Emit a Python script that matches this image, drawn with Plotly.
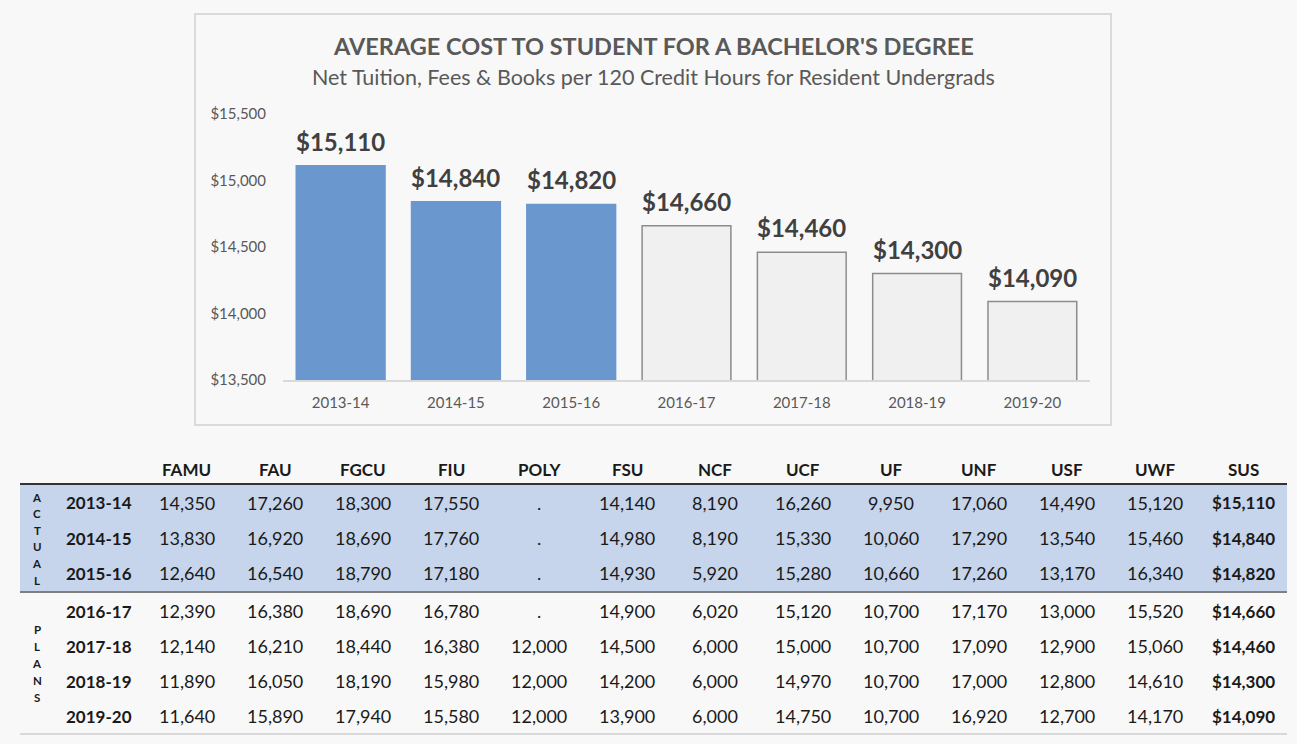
import plotly.graph_objects as go

W, H = 1297, 744

years = ["2013-14", "2014-15", "2015-16", "2016-17", "2017-18", "2018-19", "2019-20"]
n_actual = 3
schools = ["FAMU", "FAU", "FGCU", "FIU", "POLY", "FSU", "NCF", "UCF", "UF", "UNF", "USF", "UWF", "SUS"]
famu = [14350, 13830, 12640, 12390, 12140, 11890, 11640]
fau = [17260, 16920, 16540, 16380, 16210, 16050, 15890]
fgcu = [18300, 18690, 18790, 18690, 18440, 18190, 17940]
fiu = [17550, 17760, 17180, 16780, 16380, 15980, 15580]
poly = [None, None, None, None, 12000, 12000, 12000]
fsu = [14140, 14980, 14930, 14900, 14500, 14200, 13900]
ncf = [8190, 8190, 5920, 6020, 6000, 6000, 6000]
ucf = [16260, 15330, 15280, 15120, 15000, 14970, 14750]
uf = [9950, 10060, 10660, 10700, 10700, 10700, 10700]
unf = [17060, 17290, 17260, 17170, 17090, 17000, 16920]
usf = [14490, 13540, 13170, 13000, 12900, 12800, 12700]
uwf = [15120, 15460, 16340, 15520, 15060, 14610, 14170]
sus = [15110, 14840, 14820, 14660, 14460, 14300, 14090]
columns = [famu, fau, fgcu, fiu, poly, fsu, ncf, ucf, uf, unf, usf, uwf, sus]

title = "AVERAGE COST TO STUDENT FOR A BACHELOR'S DEGREE"
subtitle = "Net Tuition, Fees & Books per 120 Credit Hours for Resident Undergrads"

FONT = "Lato"
BLUE = "#6b97cf"
GRAYFILL = "#f0f0f0"
GRAYLINE = "#8c8c8c"


def px(x):
    return x / W


def py(y):
    return 1 - y / H


colors = [BLUE if i < n_actual else GRAYFILL for i in range(len(years))]
lcolors = [BLUE if i < n_actual else GRAYLINE for i in range(len(years))]

fig = go.Figure()
fig.add_trace(go.Bar(
    x=years, y=sus,
    marker=dict(color=colors, line=dict(color=lcolors, width=1.5)),
    hoverinfo="skip",
))

annotations = []
for yr, v in zip(years, sus):
    annotations.append(dict(
        x=yr, y=v, xref="x", yref="y", text=f"${v:,}", showarrow=False,
        yanchor="bottom", yshift=8,
        font=dict(family=FONT, size=24, color="#404040", weight="bold"),
    ))

# titles
annotations.append(dict(x=px(653), y=py(46), xref="paper", yref="paper", text=title,
                        showarrow=False, xanchor="center", yanchor="middle",
                        font=dict(family=FONT, size=23.5, color="#595959", weight="bold")))
annotations.append(dict(x=px(653), y=py(77), xref="paper", yref="paper", text=subtitle,
                        showarrow=False, xanchor="center", yanchor="middle",
                        font=dict(family=FONT, size=21.5, color="#595959")))

# table
col_x0, col_dx = 187, 88
year_x = 99
header_y = 469
row_y = [503, 538, 573, 611, 646, 681, 716]
TXT = "#1a1a1a"

for j, s in enumerate(schools):
    annotations.append(dict(x=px(col_x0 + j * col_dx), y=py(header_y), xref="paper", yref="paper",
                            text=s, showarrow=False, xanchor="center", yanchor="middle",
                            font=dict(family=FONT, size=17, color=TXT, weight="bold")))
for i, yr in enumerate(years):
    annotations.append(dict(x=px(year_x), y=py(row_y[i]), xref="paper", yref="paper",
                            text=yr, showarrow=False, xanchor="center", yanchor="middle",
                            font=dict(family=FONT, size=17, color=TXT, weight="bold")))
    for j, col in enumerate(columns):
        v = col[i]
        last = j == len(columns) - 1
        if v is None:
            t = "."
        elif last:
            t = f"${v:,}"
        else:
            t = f"{v:,}"
        annotations.append(dict(x=px(col_x0 + j * col_dx), y=py(row_y[i]), xref="paper", yref="paper",
                                text=t, showarrow=False, xanchor="center", yanchor="middle",
                                font=dict(family=FONT, size=17 if last else 18, color=TXT,
                                          weight="bold" if last else "normal")))


# vertical group labels
def vertical(word, y0, y1):
    k = len(word)
    for i, ch in enumerate(word):
        yy = y0 + (y1 - y0) * i / (k - 1)
        annotations.append(dict(x=px(37), y=py(yy), xref="paper", yref="paper", text=ch,
                                showarrow=False, xanchor="center", yanchor="middle",
                                font=dict(family=FONT, size=11.5, color=TXT, weight="bold")))


vertical("ACTUAL", 497, 580)
vertical("PLANS", 629, 697)

shapes = [
    dict(type="rect", xref="paper", yref="paper", x0=px(195), x1=px(1111), y0=py(425), y1=py(14),
         line=dict(color="#dadada", width=2), fillcolor="rgba(0,0,0,0)", layer="below"),
    dict(type="rect", xref="paper", yref="paper", x0=px(20), x1=px(1287), y0=py(592), y1=py(484),
         line=dict(width=0), fillcolor="#c6d5eb", layer="below"),
    dict(type="line", xref="paper", yref="paper", x0=px(20), x1=px(1287), y0=py(484), y1=py(484),
         line=dict(color="#333333", width=2)),
    dict(type="line", xref="paper", yref="paper", x0=px(20), x1=px(1287), y0=py(592), y1=py(592),
         line=dict(color="#7f7f7f", width=2)),
    dict(type="line", xref="paper", yref="paper", x0=px(20), x1=px(1287), y0=py(734), y1=py(734),
         line=dict(color="#d9d9d9", width=2)),
]

fig.update_layout(
    width=W, height=H,
    margin=dict(l=0, r=0, t=0, b=0, autoexpand=False),
    paper_bgcolor="#f8f8f8",
    plot_bgcolor="rgba(0,0,0,0)",
    showlegend=False,
    bargap=0.23,
    annotations=annotations,
    shapes=shapes,
    xaxis=dict(domain=[px(283), px(1090)], showgrid=False, showline=True, linecolor="#d9d9d9",
               linewidth=1.5, ticks="", ticklabelstandoff=8, automargin=False,
               tickfont=dict(family=FONT, size=15, color="#595959"), fixedrange=True),
    yaxis=dict(domain=[py(380), py(114)], range=[13500, 15500], dtick=500, showgrid=False,
               zeroline=False, showline=False, tickprefix="$", tickformat=",d", automargin=False,
               ticklabelstandoff=16, tickfont=dict(family=FONT, size=15, color="#595959"),
               fixedrange=True),
)

fig.write_html("out.html")
